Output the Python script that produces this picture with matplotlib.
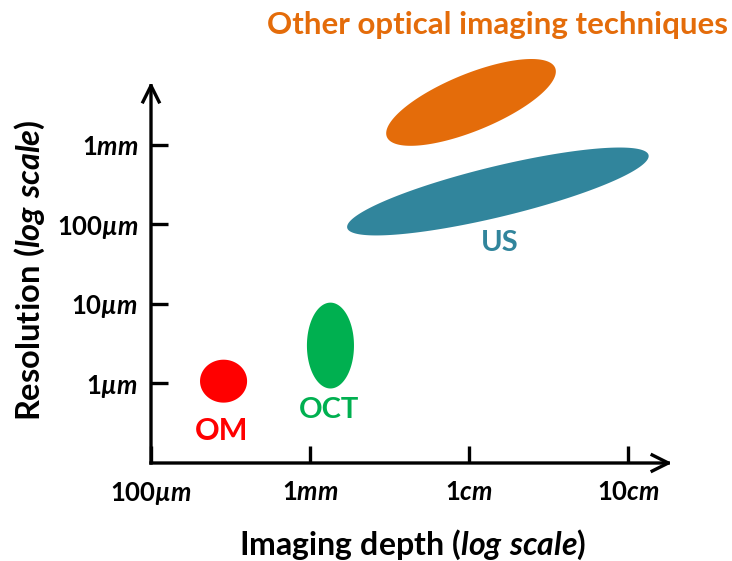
import matplotlib
matplotlib.use("Agg")
import matplotlib.pyplot as plt
import numpy as np

plt.rcParams['font.family'] = ['Lato', 'DejaVu Sans']
plt.rcParams['font.weight'] = 'bold'
plt.rcParams['mathtext.fontset'] = 'custom'
plt.rcParams['mathtext.rm'] = 'Lato:bold'
plt.rcParams['mathtext.it'] = 'Lato:bold:italic'
plt.rcParams['mathtext.bf'] = 'Lato:bold'

# tick positions (micrometres) and labels
depth_ticks = [100, 1000, 1e4, 1e5]
depth_labels = [r'$\mathrm{100}\mathit{µm}$', r'$\mathrm{1}\mathit{mm}$',
                r'$\mathrm{1}\mathit{cm}$', r'$\mathrm{10}\mathit{cm}$']
res_ticks = [1, 10, 100, 1000]
res_labels = [r'$\mathrm{1}\mathit{µm}$', r'$\mathrm{10}\mathit{µm}$',
              r'$\mathrm{100}\mathit{µm}$', r'$\mathrm{1}\mathit{mm}$']

# techniques: centre depth / resolution (µm), ellipse semi-axes (decades of depth), tilt
techniques = ['OM', 'OCT', 'US', 'Other']
depth_um = [286, 1345, 15200, 10300]
res_um = [1.07, 3.0, 260, 3430]
semi_a = [0.148, 0.148, 0.975, 0.572]
semi_b = [0.135, 0.270, 0.159, 0.179]
tilt = [0, 0, 13.6, 22.3]
colors = ['#FF0000', '#00B050', '#31859C', '#E46C0A']

W, H = 732, 561
fig = plt.figure(figsize=(W / 100, H / 100), dpi=100)
ax = fig.add_axes([151 / W, 1 - 463 / H, (672 - 151) / W, (463 - 82) / H])
ax.set_xscale('log')
ax.set_yscale('log')
xlo, xhi = 100, 10 ** 5.277
ylo, yhi = 0.1, 10 ** 3.792
ax.set_xlim(xlo, xhi)
ax.set_ylim(ylo, yhi)

# px per decade in x vs y, so ellipses can be tilted in screen space
px_x = (672 - 151) / np.log10(xhi / xlo)
px_y = (463 - 82) / np.log10(yhi / ylo)
ratio = px_x / px_y

t = np.linspace(0, 2 * np.pi, 300)
for x0, y0, a, b, ang, c in zip(depth_um, res_um, semi_a, semi_b, tilt, colors):
    th = np.radians(ang)
    ex, ey = a * np.cos(t), b * np.sin(t)
    dx = ex * np.cos(th) - ey * np.sin(th)
    dy = (ex * np.sin(th) + ey * np.cos(th)) * ratio
    ax.fill(x0 * 10 ** dx, y0 * 10 ** dy, color=c, lw=0, clip_on=False)

ax.text(280, 0.256, 'OM', color=colors[0], fontsize=22, ha='center', va='center')
ax.text(1320, 0.47, 'OCT', color=colors[1], fontsize=21, ha='center', va='center')
ax.text(15700, 57.7, 'US', color=colors[2], fontsize=21, ha='center', va='center')
fig.text(728 / W, 1 - 25 / H, 'Other optical imaging techniques', color=colors[3],
         fontsize=22.5, ha='right', va='center')

for s in ax.spines.values():
    s.set_visible(False)
arrow = dict(arrowstyle='->', lw=2.4, color='black', mutation_scale=29,
             shrinkA=0, shrinkB=0, capstyle='projecting')
ax.annotate('', xy=(1, 0), xytext=(0, 0), xycoords='axes fraction', arrowprops=arrow)
ax.annotate('', xy=(0, 1), xytext=(0, 0), xycoords='axes fraction', arrowprops=arrow)

ax.set_xticks(depth_ticks, depth_labels)
ax.set_yticks(res_ticks, res_labels)
ax.minorticks_off()
ax.tick_params(axis='both', direction='in', length=12, width=2.4, labelsize=18.5)
ax.tick_params(axis='x', pad=12)
ax.tick_params(axis='y', pad=9)

fig.text(413 / W, 1 - 545 / H,
         r'$\mathrm{Imaging\ depth\ (}\mathit{log\ scale}\mathrm{)}$',
         fontsize=23, ha='center', va='center')
fig.text(30 / W, 1 - 270 / H,
         r'$\mathrm{Resolution\ (}\mathit{log\ scale}\mathrm{)}$',
         fontsize=23.5, ha='center', va='center', rotation=90)

fig.savefig('out.png', dpi=100)
